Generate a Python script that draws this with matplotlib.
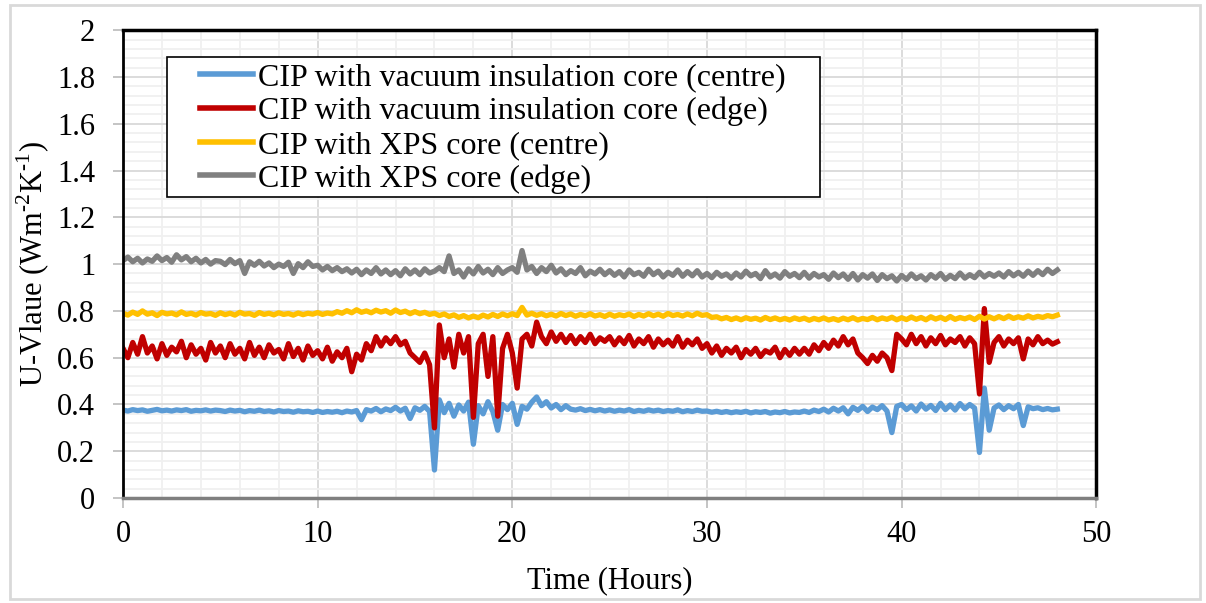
# U-value of the CIP panels over the 48 h test
import matplotlib
matplotlib.use('Agg')
import matplotlib.pyplot as plt
from matplotlib.patches import Rectangle
from matplotlib.ticker import MultipleLocator, FuncFormatter

# time of each reading (hours)
hours = [
    0, 0.25, 0.5, 0.75, 1, 1.25, 1.5, 1.75, 2, 2.25, 2.5, 2.75, 3, 3.25, 3.5, 3.75, 4, 4.25, 4.5, 4.75,
    5, 5.25, 5.5, 5.75, 6, 6.25, 6.5, 6.75, 7, 7.25, 7.5, 7.75, 8, 8.25, 8.5, 8.75, 9, 9.25, 9.5, 9.75,
    10, 10.25, 10.5, 10.75, 11, 11.25, 11.5, 11.75, 12, 12.25, 12.5, 12.75, 13, 13.25, 13.5, 13.75, 14, 14.25, 14.5, 14.75,
    15, 15.25, 15.5, 15.75, 16, 16.25, 16.5, 16.75, 17, 17.25, 17.5, 17.75, 18, 18.25, 18.5, 18.75, 19, 19.25, 19.5, 19.75,
    20, 20.25, 20.5, 20.75, 21, 21.25, 21.5, 21.75, 22, 22.25, 22.5, 22.75, 23, 23.25, 23.5, 23.75, 24, 24.25, 24.5, 24.75,
    25, 25.25, 25.5, 25.75, 26, 26.25, 26.5, 26.75, 27, 27.25, 27.5, 27.75, 28, 28.25, 28.5, 28.75, 29, 29.25, 29.5, 29.75,
    30, 30.25, 30.5, 30.75, 31, 31.25, 31.5, 31.75, 32, 32.25, 32.5, 32.75, 33, 33.25, 33.5, 33.75, 34, 34.25, 34.5, 34.75,
    35, 35.25, 35.5, 35.75, 36, 36.25, 36.5, 36.75, 37, 37.25, 37.5, 37.75, 38, 38.25, 38.5, 38.75, 39, 39.25, 39.5, 39.75,
    40, 40.25, 40.5, 40.75, 41, 41.25, 41.5, 41.75, 42, 42.25, 42.5, 42.75, 43, 43.25, 43.5, 43.75, 44, 44.25, 44.5, 44.75,
    45, 45.25, 45.5, 45.75, 46, 46.25, 46.5, 46.75, 47, 47.25, 47.5, 47.75, 48,
]

vip_centre = [
    0.376, 0.372, 0.378, 0.374, 0.377, 0.371, 0.375, 0.379, 0.373, 0.376, 0.372, 0.377, 0.374, 0.378, 0.371, 0.375, 0.373, 0.377, 0.372, 0.376,
    0.374, 0.370, 0.376, 0.372, 0.375, 0.369, 0.374, 0.371, 0.376, 0.370, 0.373, 0.368, 0.374, 0.370, 0.372, 0.367, 0.373, 0.369, 0.371, 0.366,
    0.372, 0.366, 0.370, 0.367, 0.371, 0.365, 0.372, 0.368, 0.374, 0.335, 0.378, 0.372, 0.383, 0.369, 0.381, 0.374, 0.388, 0.372, 0.384, 0.340,
    0.386, 0.375, 0.392, 0.370, 0.120, 0.420, 0.365, 0.405, 0.350, 0.398, 0.372, 0.410, 0.230, 0.395, 0.360, 0.412, 0.370, 0.290, 0.400, 0.378,
    0.405, 0.315, 0.392, 0.380, 0.410, 0.432, 0.395, 0.412, 0.385, 0.400, 0.378, 0.395, 0.380, 0.376, 0.382, 0.374, 0.379, 0.373, 0.378, 0.372,
    0.377, 0.371, 0.376, 0.372, 0.378, 0.370, 0.375, 0.371, 0.377, 0.372, 0.376, 0.370, 0.374, 0.371, 0.377, 0.369, 0.374, 0.370, 0.376, 0.371,
    0.372, 0.367, 0.371, 0.366, 0.370, 0.365, 0.369, 0.366, 0.371, 0.364, 0.369, 0.366, 0.370, 0.363, 0.368, 0.365, 0.370, 0.364, 0.368, 0.366,
    0.372, 0.366, 0.376, 0.370, 0.380, 0.368, 0.384, 0.372, 0.386, 0.360, 0.388, 0.375, 0.392, 0.370, 0.389, 0.378, 0.395, 0.372, 0.280, 0.392,
    0.400, 0.378, 0.394, 0.372, 0.402, 0.380, 0.396, 0.374, 0.405, 0.378, 0.398, 0.376, 0.404, 0.382, 0.400, 0.385, 0.195, 0.470, 0.290, 0.385,
    0.398, 0.378, 0.395, 0.382, 0.400, 0.310, 0.390, 0.382, 0.386, 0.378, 0.383, 0.377, 0.380,
]

vip_edge = [
    0.640, 0.600, 0.665, 0.615, 0.690, 0.620, 0.650, 0.595, 0.660, 0.610, 0.645, 0.625, 0.670, 0.600, 0.655, 0.615, 0.640, 0.590, 0.665, 0.620,
    0.650, 0.600, 0.660, 0.615, 0.640, 0.595, 0.665, 0.610, 0.645, 0.600, 0.655, 0.620, 0.635, 0.595, 0.660, 0.605, 0.640, 0.590, 0.650, 0.610,
    0.630, 0.595, 0.645, 0.585, 0.625, 0.600, 0.640, 0.540, 0.615, 0.590, 0.660, 0.630, 0.690, 0.650, 0.685, 0.660, 0.690, 0.655, 0.670, 0.620,
    0.600, 0.580, 0.620, 0.570, 0.300, 0.740, 0.600, 0.680, 0.560, 0.700, 0.620, 0.690, 0.345, 0.660, 0.700, 0.520, 0.690, 0.350, 0.640, 0.700,
    0.620, 0.470, 0.680, 0.700, 0.650, 0.752, 0.690, 0.660, 0.710, 0.670, 0.700, 0.665, 0.695, 0.660, 0.690, 0.665, 0.700, 0.660, 0.685, 0.670,
    0.690, 0.655, 0.685, 0.660, 0.695, 0.650, 0.680, 0.660, 0.690, 0.645, 0.680, 0.655, 0.675, 0.650, 0.690, 0.645, 0.675, 0.655, 0.680, 0.640,
    0.660, 0.620, 0.650, 0.610, 0.640, 0.620, 0.645, 0.600, 0.635, 0.615, 0.640, 0.605, 0.630, 0.620, 0.645, 0.600, 0.635, 0.610, 0.640, 0.615,
    0.640, 0.615, 0.655, 0.630, 0.665, 0.640, 0.675, 0.650, 0.690, 0.655, 0.680, 0.620, 0.600, 0.575, 0.610, 0.585, 0.620, 0.600, 0.545, 0.700,
    0.680, 0.655, 0.700, 0.660, 0.690, 0.650, 0.685, 0.660, 0.695, 0.655, 0.680, 0.665, 0.690, 0.650, 0.685, 0.660, 0.445, 0.810, 0.580, 0.665,
    0.690, 0.650, 0.680, 0.660, 0.685, 0.595, 0.680, 0.655, 0.690, 0.660, 0.675, 0.658, 0.668,
]

xps_centre = [
    0.790, 0.782, 0.795, 0.785, 0.800, 0.786, 0.792, 0.780, 0.794, 0.787, 0.791, 0.783, 0.796, 0.785, 0.790, 0.782, 0.793, 0.786, 0.789, 0.781,
    0.792, 0.784, 0.790, 0.782, 0.794, 0.786, 0.789, 0.781, 0.793, 0.785, 0.790, 0.783, 0.792, 0.785, 0.789, 0.782, 0.791, 0.784, 0.790, 0.786,
    0.793, 0.785, 0.791, 0.787, 0.797, 0.790, 0.801, 0.792, 0.805, 0.794, 0.800, 0.792, 0.803, 0.795, 0.801, 0.790, 0.804, 0.793, 0.799, 0.788,
    0.797, 0.788, 0.794, 0.785, 0.790, 0.780, 0.787, 0.776, 0.783, 0.772, 0.780, 0.770, 0.778, 0.771, 0.782, 0.774, 0.785, 0.776, 0.787, 0.779,
    0.788, 0.780, 0.815, 0.782, 0.790, 0.781, 0.788, 0.779, 0.786, 0.778, 0.789, 0.780, 0.787, 0.777, 0.785, 0.779, 0.788, 0.778, 0.784, 0.776,
    0.786, 0.777, 0.784, 0.779, 0.787, 0.776, 0.785, 0.778, 0.788, 0.779, 0.786, 0.777, 0.789, 0.780, 0.785, 0.778, 0.787, 0.779, 0.790, 0.781,
    0.784, 0.772, 0.775, 0.766, 0.772, 0.763, 0.770, 0.762, 0.771, 0.764, 0.769, 0.761, 0.772, 0.763, 0.770, 0.762, 0.768, 0.761, 0.770, 0.763,
    0.769, 0.760, 0.768, 0.762, 0.770, 0.761, 0.767, 0.760, 0.769, 0.762, 0.771, 0.761, 0.768, 0.763, 0.772, 0.762, 0.770, 0.764, 0.773, 0.762,
    0.771, 0.763, 0.774, 0.764, 0.772, 0.762, 0.775, 0.765, 0.773, 0.763, 0.776, 0.764, 0.772, 0.766, 0.774, 0.763, 0.777, 0.765, 0.775, 0.766,
    0.776, 0.767, 0.778, 0.768, 0.775, 0.769, 0.779, 0.770, 0.777, 0.772, 0.780, 0.775, 0.782,
]

xps_edge = [
    1.015, 1.030, 1.010, 1.025, 1.005, 1.022, 1.012, 1.035, 1.015, 1.028, 1.008, 1.040, 1.018, 1.032, 1.010, 1.025, 1.005, 1.020, 1.000, 1.015,
    1.012, 0.998, 1.020, 1.002, 1.015, 0.960, 1.010, 0.995, 1.012, 0.992, 1.005, 0.985, 1.000, 0.990, 1.008, 0.960, 1.002, 0.985, 1.010, 0.990,
    0.995, 0.975, 0.990, 0.972, 0.985, 0.968, 0.980, 0.962, 0.978, 0.955, 0.975, 0.960, 0.985, 0.958, 0.975, 0.955, 0.972, 0.950, 0.980, 0.958,
    0.975, 0.955, 0.980, 0.962, 0.970, 0.985, 0.968, 1.035, 0.960, 0.975, 0.945, 0.980, 0.958, 0.990, 0.962, 0.978, 0.955, 0.985, 0.960, 0.975,
    0.985, 0.965, 1.058, 0.975, 0.990, 0.960, 0.985, 0.968, 0.995, 0.962, 0.980, 0.955, 0.972, 0.960, 0.985, 0.950, 0.970, 0.958, 0.978, 0.955,
    0.972, 0.952, 0.968, 0.945, 0.975, 0.955, 0.965, 0.948, 0.978, 0.955, 0.970, 0.945, 0.965, 0.952, 0.975, 0.948, 0.968, 0.950, 0.972, 0.945,
    0.960, 0.942, 0.965, 0.948, 0.958, 0.940, 0.962, 0.945, 0.970, 0.950, 0.960, 0.938, 0.972, 0.945, 0.958, 0.940, 0.968, 0.948, 0.960, 0.942,
    0.965, 0.940, 0.960, 0.945, 0.955, 0.935, 0.962, 0.942, 0.958, 0.935, 0.960, 0.932, 0.955, 0.940, 0.958, 0.930, 0.955, 0.938, 0.950, 0.928,
    0.952, 0.935, 0.958, 0.938, 0.950, 0.932, 0.955, 0.940, 0.960, 0.935, 0.952, 0.938, 0.962, 0.940, 0.955, 0.942, 0.965, 0.945, 0.960, 0.948,
    0.962, 0.945, 0.968, 0.950, 0.965, 0.948, 0.970, 0.952, 0.972, 0.955, 0.978, 0.960, 0.975,
]

series = [
    ('CIP with vacuum insulation core (centre)', vip_centre, '#5B9BD5'),
    ('CIP with vacuum insulation core (edge)', vip_edge, '#C00000'),
    ('CIP with XPS core (centre)', xps_centre, '#FFC000'),
    ('CIP with XPS core (edge)', xps_edge, '#808080'),
]

plt.rcParams['font.family'] = 'Liberation Serif'
plt.rcParams['mathtext.fontset'] = 'custom'
plt.rcParams['mathtext.rm'] = 'Liberation Serif'

FS = 22

fig = plt.figure(figsize=(12.06, 6.03), dpi=100)
ax = fig.add_axes([0.102, 0.174, 0.807, 0.776])

# grey outer frame like the chart area border
fig.patches.append(Rectangle((0.008, 0.006), 0.987, 0.986, transform=fig.transFigure,
                             fill=False, edgecolor='#D9D9D9', linewidth=2))

for label, vals, col in series:
    ax.plot(hours, vals, color=col, linewidth=3.8, label=label, solid_joinstyle='round')

ax.set_xlim(0, 50)
ax.set_ylim(0, 2)
ax.xaxis.set_major_locator(MultipleLocator(10))
ax.xaxis.set_minor_locator(MultipleLocator(2))
ax.yaxis.set_major_locator(MultipleLocator(0.2))
ax.yaxis.set_minor_locator(MultipleLocator(0.04))
ax.yaxis.set_major_formatter(FuncFormatter(lambda v, p: f'{v:g}'))

ax.grid(which='major', color='#D9D9D9', linewidth=1.3)
ax.grid(which='minor', color='#F0F0F0', linewidth=1.3)
ax.set_axisbelow(True)

ax.tick_params(which='major', length=7, width=1.3, color='#BFBFBF', labelsize=FS)
ax.tick_params(axis='x', pad=9)
ax.tick_params(axis='y', pad=13)
ax.tick_params(which='minor', length=0)

for side in ['top', 'right']:
    ax.spines[side].set_color('black')
    ax.spines[side].set_linewidth(2.5)
ax.spines['left'].set_color('black')
ax.spines['left'].set_linewidth(2)
ax.spines['bottom'].set_color('#7F7F7F')
ax.spines['bottom'].set_linewidth(2.5)

ax.set_xlabel('Time (Hours)', fontsize=FS, labelpad=12)
ax.set_ylabel(r'U-Vlaue (Wm$^{\text{-2}}$K$^{\text{-1}}$)', fontsize=FS, labelpad=4)

# legend box: wider than its text, as in the original chart
ax.add_patch(Rectangle((0.0452, 0.643), 0.6711, 0.299, transform=ax.transAxes,
                       facecolor='white', edgecolor='black', linewidth=1.2, zorder=4))

leg = ax.legend(loc='upper left', bbox_to_anchor=(0.0791, 0.930), borderaxespad=0,
                fontsize=23, frameon=False, handlelength=1.66, handletextpad=0.16,
                labelspacing=0.135, borderpad=0)
leg.set_zorder(5)
for h in leg.get_lines():
    h.set_linewidth(4)

fig.savefig('out.png', dpi=100)
